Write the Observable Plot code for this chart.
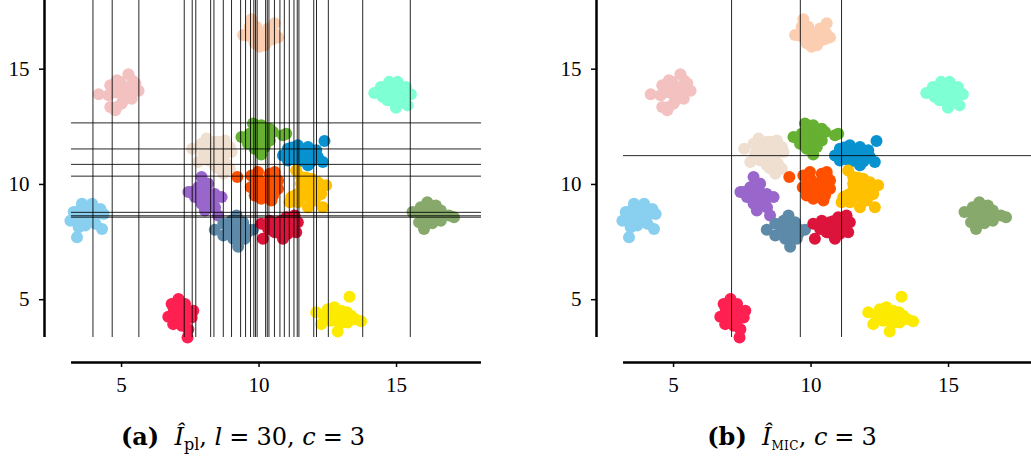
<!DOCTYPE html>
<html>
<head>
<meta charset="utf-8">
<script src="https://cdn.jsdelivr.net/npm/d3@7"></script>
<script src="https://cdn.jsdelivr.net/npm/@observablehq/plot@0.6"></script>
<style>
  body { margin: 0; background: #fff; }
  #fig { position: relative; width: 1031px; height: 458px; overflow: hidden; font-family: "Liberation Serif", serif; color: #000; }
  .panel { position: absolute; top: 0; }
  .cap { position: absolute; top: 425px; font-family: "DejaVu Serif", serif; font-size: 24px; line-height: 24px; white-space: nowrap; transform: translateX(-50%); }
  .cap sub { font-size: 16px; vertical-align: -5px; line-height: 0; }
  .cap .sc { font-size: 12px; letter-spacing: 0.3px; }
  .cap .eq { padding: 0 7px; }
</style>
</head>
<body>
<div id="fig"></div>
<script>
// Cluster points (x, y) per colour group
const peach = [[9.72,17.17],[9.66,16.84],[9.42,16.48],[9.72,16.41],[9.96,16.62],[10.08,16.26],[10.27,16.41],[10.45,16.55],[10.57,16.99],[10.69,16.38],[10.02,15.97],[9.84,16.12],[10.21,16.04],[10.33,16.77],[9.90,16.84],
  [9.85,16.6],[10.1,16.5],[10.35,16.5],[10.55,16.55],[9.6,16.45],[10.0,16.3],[10.3,16.2],[10.5,16.3]];
const pink = [[4.17,13.91],[4.53,13.87],[4.59,14.30],[4.83,14.52],[5.01,14.16],[5.25,14.78],[5.50,14.38],[5.62,14.06],[5.37,13.72],[5.07,13.65],[4.83,13.36],[4.59,13.36],[4.77,13.22],[5.13,13.94],[4.95,14.45],
  [4.8,14.0],[5.0,13.9],[5.2,14.2],[4.9,14.2],[5.3,14.0],[4.7,14.1],[5.0,13.5],[5.4,14.5]];
const aqua = [[14.19,13.97],[14.43,14.23],[14.73,14.45],[15.04,14.45],[15.34,14.23],[15.52,13.91],[15.40,13.43],[14.98,13.33],[14.67,13.65],[15.04,13.80],[14.49,13.80],[15.22,13.65],[14.79,14.09],
  [14.8,13.9],[15.0,14.1],[15.2,14.0],[14.9,13.6],[15.3,13.9],[14.6,13.95],[15.1,14.3]];
const green = [[9.36,12.06],[9.66,12.20],[9.78,12.64],[10.08,12.57],[10.39,12.42],[10.51,12.28],[10.39,11.91],[10.21,11.62],[10.08,11.30],[9.84,11.55],[9.60,11.77],[9.96,12.06],[10.99,12.20],[10.87,12.13],[10.08,12.28],[9.72,11.91],
  [9.9,12.3],[10.2,12.1],[10.0,11.8],[10.25,12.3],[9.85,12.45],[10.2,11.85],[9.5,12.0]];
const beige = [[7.57,11.55],[7.91,11.77],[8.09,11.99],[8.39,11.84],[8.76,11.91],[8.94,11.62],[9.00,11.41],[8.70,11.19],[8.94,10.68],[8.70,10.46],[8.39,10.83],[8.15,11.04],[7.79,10.97],[7.97,11.33],[8.39,11.41],[8.64,11.48],
  [8.2,11.5],[8.5,11.6],[8.3,11.2],[8.6,11.0],[8.8,11.4],[8.5,11.85],[8.1,11.7],[8.5,10.7],[8.8,10.9]];
const blue = [[10.87,11.26],[11.05,11.55],[11.41,11.70],[11.78,11.62],[12.08,11.48],[12.38,11.88],[12.14,11.19],[12.32,10.97],[11.78,10.83],[11.41,10.97],[11.05,11.04],[11.53,11.33],[11.90,11.26],
  [11.2,11.3],[11.4,11.4],[11.6,11.5],[11.8,11.4],[12.0,11.2],[11.3,11.1],[11.6,11.1],[11.2,11.6],[11.9,11.0]];
const orange = [[9.21,10.32],[9.72,10.39],[9.96,10.54],[10.39,10.46],[10.57,10.54],[10.69,10.17],[10.69,9.81],[10.51,9.52],[10.45,9.30],[10.08,9.38],[9.84,9.52],[9.70,9.88],[10.08,10.03],[10.33,9.88],[9.96,9.74],
  [10.0,10.2],[10.2,10.0],[10.4,10.2],[10.5,9.9],[10.2,9.7],[10.3,9.5],[9.85,10.2],[10.6,10.3],[10.0,9.9]];
const gold = [[11.35,10.61],[11.53,10.32],[11.90,10.25],[12.14,10.10],[12.44,9.96],[12.26,9.59],[12.32,9.01],[12.02,9.30],[11.78,9.01],[11.41,9.23],[11.11,9.23],[11.17,9.45],[11.53,9.74],[11.90,9.74],[11.53,10.03],
  [11.7,10.0],[11.9,9.9],[12.1,9.8],[11.7,9.5],[11.9,9.45],[12.1,9.5],[11.5,9.4],[11.35,9.55],[12.2,10.0],[11.7,10.3]];
const purple = [[7.91,10.32],[8.15,10.03],[7.79,9.88],[7.43,9.67],[7.67,9.45],[8.03,9.59],[8.39,9.59],[8.64,9.45],[8.33,9.16],[8.03,8.87],[7.91,9.16],[8.51,8.65],[8.21,9.30],[7.55,9.67],
  [8.0,9.75],[8.2,9.6],[7.8,9.6],[8.1,9.2],[8.3,9.4],[7.9,9.45],[8.4,9.0]];
const skyblue = [[3.14,8.43],[3.26,8.80],[3.56,9.16],[3.93,9.16],[4.23,8.94],[4.35,8.72],[4.29,8.07],[4.05,8.29],[3.68,8.22],[3.38,7.71],[3.44,8.14],[3.80,8.65],[3.50,8.58],
  [3.7,8.8],[3.9,8.6],[4.1,8.7],[3.5,8.9],[3.7,8.45],[4.0,8.9],[3.3,8.5]];
const olive = [[15.58,8.80],[15.88,9.01],[16.12,9.23],[16.43,9.09],[16.61,8.87],[16.91,8.65],[17.09,8.58],[16.61,8.43],[16.30,8.32],[16.00,8.07],[15.82,8.36],[16.18,8.65],
  [16.2,8.9],[16.4,8.7],[16.0,8.6],[16.4,8.5],[16.7,8.65],[16.1,8.4],[15.9,8.7]];
const steel = [[8.39,8.03],[8.70,8.29],[9.00,8.43],[9.18,8.65],[9.42,8.36],[9.78,8.03],[9.54,7.86],[9.48,7.64],[9.24,7.30],[9.06,7.64],[8.70,7.78],[9.00,8.00],[9.30,8.07],
  [9.0,8.2],[9.2,8.3],[9.3,7.9],[9.1,7.9],[8.9,7.9],[9.5,8.1],[9.2,7.6]];
const crimson = [[10.08,8.29],[10.39,8.43],[10.69,8.36],[10.99,8.58],[11.29,8.65],[11.41,8.36],[11.35,7.93],[11.05,7.86],[10.87,7.64],[10.57,7.93],[10.14,7.64],[10.33,8.07],[11.05,8.22],
  [10.6,8.2],[10.8,8.1],[11.0,8.0],[11.2,8.2],[10.8,8.4],[10.4,8.2],[11.1,8.45],[10.7,7.9]];
const rose = [[6.70,4.26],[6.82,4.81],[7.07,5.03],[7.31,4.81],[7.61,4.52],[7.55,4.23],[7.43,3.72],[7.40,3.36],[7.19,3.87],[6.88,3.94],[7.00,4.45],[7.25,4.30],
  [7.1,4.6],[7.2,4.4],[7.1,4.2],[6.9,4.3],[7.3,4.6],[7.2,4.1],[7.3,3.9],[6.9,4.6]];
const yellow = [[12.08,4.45],[12.26,3.94],[12.50,4.59],[12.74,4.67],[12.98,4.52],[13.29,5.13],[13.35,4.30],[13.71,4.06],[13.22,4.01],[12.86,3.62],[12.62,4.09],[12.38,4.23],[12.98,4.16],
  [12.7,4.4],[12.9,4.35],[13.1,4.3],[12.6,4.3],[12.8,4.1],[13.0,4.0],[12.45,4.45],[13.2,4.45],[13.5,4.15]];

const groups = [
  [peach, "#FBCEB1"], [pink, "#F2C1C0"], [aqua, "#7FFFD4"], [green, "#66B032"],
  [beige, "#EFDFD0"], [blue, "#0892D0"], [orange, "#FF5000"], [gold, "#FFC000"],
  [purple, "#9966CC"], [skyblue, "#89CFF0"], [olive, "#87A96B"], [steel, "#5D8AA8"],
  [crimson, "#DC143C"], [rose, "#FF2052"], [yellow, "#FCEA00"]
];

// Cut positions of the two partitions
const plVertical = [3.96, 4.66, 5.63, 7.28, 7.57, 7.70, 8.24, 8.36, 8.70, 9.00, 9.33, 9.51, 9.69, 9.81, 9.87, 9.93, 10.24, 10.30, 10.36, 10.56, 10.76, 10.92, 11.10, 11.27, 11.39, 11.45, 11.99, 12.09, 12.52, 13.77, 15.50];
const plHorizontal = [12.67, 11.54, 10.87, 10.36, 8.79, 8.64, 8.58];
const micVertical = [7.11, 9.61, 11.11];
const micHorizontal = [11.25];

const xTicks = [5, 10, 15];
const yTicks = [5, 10, 15];
const xDomain = [3.18, 18.09];
const yDomain = [3.36, 17.98];

const points = groups.flatMap(([pts, color]) => pts.map(([x, y]) => ({x, y, color})));

function panel(vlines, hlines) {
  const lineStyle = {stroke: "black", strokeWidth: 1, strokeOpacity: 0.85};
  return Plot.plot({
    width: 516,
    height: 410,
    marginLeft: 44,
    marginRight: 35,
    marginTop: 0,
    marginBottom: 48,
    x: {domain: xDomain, insetLeft: 27},
    y: {domain: yDomain, insetBottom: 25},
    color: {type: "identity"},
    style: {fontFamily: "'Liberation Serif', serif", fontSize: "21px", color: "black", background: "transparent", overflow: "visible"},
    marks: [
      Plot.dot(points, {x: "x", y: "y", r: 6, fill: "color"}),
      Plot.ruleX(vlines, {insetBottom: 25, ...lineStyle}),
      Plot.ruleY(hlines, {insetLeft: 27, ...lineStyle}),
      // detached spines
      Plot.ruleX([xDomain[0]], {y1: yDomain[0], y2: yDomain[1], dx: -27, stroke: "black", strokeWidth: 2.5}),
      Plot.ruleY([yDomain[0]], {x1: xDomain[0], x2: xDomain[1], dy: 25, stroke: "black", strokeWidth: 2.5}),
      Plot.axisX({ticks: xTicks, tickSize: 5, tickPadding: 10, strokeWidth: 1.5, label: null}),
      Plot.axisY({ticks: yTicks, tickSize: 5, tickPadding: 10, strokeWidth: 1.5, label: null})
    ]
  });
}

const fig = document.getElementById("fig");
const left = panel(plVertical, plHorizontal);
left.classList.add("panel");
left.style.left = "0px";
fig.appendChild(left);

const right = panel(micVertical, micHorizontal);
right.classList.add("panel");
right.style.left = "552px";
fig.appendChild(right);

const capA = document.createElement("div");
capA.className = "cap";
capA.style.left = "243px";
capA.innerHTML = '<b>(a)</b>&nbsp; <i>Î</i><sub>pl</sub>, <i>l</i><span class="eq">=</span>30, <i>c</i><span class="eq">=</span>3';
fig.appendChild(capA);

const capB = document.createElement("div");
capB.className = "cap";
capB.style.left = "792px";
capB.innerHTML = '<b>(b)</b>&nbsp; <i>Î</i><sub class="sc">MIC</sub>, <i>c</i><span class="eq">=</span>3';
fig.appendChild(capB);
</script>
</body>
</html>
